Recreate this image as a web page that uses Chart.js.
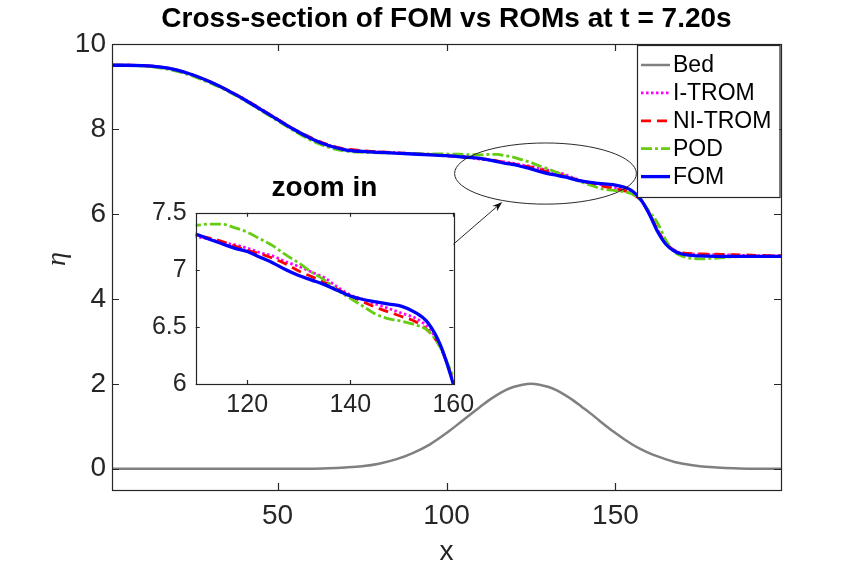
<!DOCTYPE html>
<html>
<head>
<meta charset="utf-8">
<title>Cross-section of FOM vs ROMs</title>
<script src="https://cdn.jsdelivr.net/npm/chart.js@4.4.0/dist/chart.umd.min.js"></script>
<style>
  body { margin: 0; background: #fff; }
  #wrap { position: relative; width: 864px; height: 576px; }
  #mainChart { position: absolute; left: 0; top: 0; }
  #zoomChart { position: absolute; left: 130px; top: 160px; }
</style>
</head>
<body>
<div id="wrap">
  <canvas id="mainChart" width="864" height="576"></canvas>
  <canvas id="zoomChart" width="389" height="270"></canvas>
</div>
<script>
// x positions of the cross-section samples
const xs = [1, 5, 10, 15, 20, 25, 30, 35, 40, 45, 50, 55, 60, 65, 70, 75, 80, 85, 90, 95, 100, 105,
  110, 112.5, 115, 117.5, 120, 122.5, 125, 127.5, 130, 132.5, 135, 137.5, 140, 142.5, 145, 147.5, 150, 152.5, 155, 157.5, 160,
  162.5, 165, 167.5, 170, 175, 180, 185, 190, 195, 199];

const bed = [0, 0, 0, 0, 0, 0, 0, 0, 0, 0, 0, 0, 0, 0.01, 0.03, 0.06, 0.12, 0.22, 0.37, 0.57, 0.84, 1.15,
  1.46, 1.61, 1.74, 1.85, 1.93, 1.98, 2.0, 1.98, 1.93, 1.85, 1.74, 1.61, 1.46, 1.31, 1.15, 0.99, 0.84, 0.70, 0.57, 0.46, 0.37,
  0.29, 0.22, 0.16, 0.12, 0.06, 0.03, 0.01, 0, 0, 0];

const iTrom = [9.50, 9.50, 9.49, 9.46, 9.39, 9.27, 9.11, 8.92, 8.71, 8.47, 8.23, 7.99, 7.78, 7.62, 7.52, 7.48, 7.46, 7.44, 7.42, 7.40, 7.37, 7.34,
  7.29, 7.27, 7.24, 7.22, 7.19, 7.15, 7.12, 7.07, 7.03, 6.98, 6.93, 6.85, 6.78, 6.74, 6.70, 6.66, 6.62, 6.58, 6.50, 6.33, 6.02,
  5.62, 5.30, 5.14, 5.07, 5.05, 5.04, 5.03, 5.02, 5.02, 5.01];

const niTrom = [9.50, 9.50, 9.49, 9.46, 9.39, 9.27, 9.11, 8.92, 8.71, 8.47, 8.23, 7.99, 7.79, 7.63, 7.53, 7.49, 7.46, 7.44, 7.42, 7.40, 7.37, 7.34,
  7.30, 7.28, 7.25, 7.21, 7.17, 7.14, 7.10, 7.05, 6.99, 6.94, 6.89, 6.83, 6.77, 6.72, 6.67, 6.63, 6.59, 6.55, 6.47, 6.32, 6.02,
  5.62, 5.30, 5.14, 5.08, 5.06, 5.05, 5.04, 5.03, 5.02, 5.02];

const pod = [9.50, 9.50, 9.48, 9.44, 9.36, 9.24, 9.08, 8.90, 8.68, 8.44, 8.19, 7.95, 7.73, 7.57, 7.48, 7.45, 7.44, 7.43, 7.42, 7.41, 7.41, 7.40,
  7.39, 7.40, 7.40, 7.37, 7.33, 7.27, 7.21, 7.13, 7.06, 6.98, 6.91, 6.82, 6.75, 6.68, 6.61, 6.57, 6.55, 6.52, 6.47, 6.32, 6.06,
  5.78, 5.37, 5.10, 5.00, 4.94, 4.96, 4.99, 5.00, 5.00, 5.00];

const fom = [9.50, 9.50, 9.49, 9.46, 9.39, 9.27, 9.11, 8.92, 8.70, 8.46, 8.22, 7.98, 7.77, 7.61, 7.51, 7.47, 7.45, 7.43, 7.41, 7.39, 7.37, 7.34,
  7.31, 7.27, 7.23, 7.19, 7.16, 7.11, 7.06, 7.00, 6.95, 6.91, 6.87, 6.82, 6.77, 6.74, 6.72, 6.70, 6.68, 6.63, 6.54, 6.34, 6.00,
  5.58, 5.28, 5.12, 5.05, 5.01, 5.00, 5.00, 5.00, 5.00, 5.00];

const xTicks = [50, 100, 150];
const yTicks = [0, 2, 4, 6, 8, 10];
const xTicksZoom = [120, 140, 160];
const yTicksZoom = [6, 6.5, 7, 7.5];

const AXIS = '#262626';
const SANS = '"Liberation Sans", Arial, Helvetica, sans-serif';

const series = [
  { label: 'Bed', values: bed, color: '#808080', dash: [], width: 2.5 },
  { label: 'I-TROM', values: iTrom, color: '#ff00ff', dash: [2.5, 2.5], width: 2.8 },
  { label: 'NI-TROM', values: niTrom, color: '#ff0000', dash: [10, 6], width: 2.8 },
  { label: 'POD', values: pod, color: '#66cc11', dash: [11, 3, 3, 3], width: 2.8 },
  { label: 'FOM', values: fom, color: '#0000ff', dash: [], width: 3.3 },
];

function buildDatasets() {
  return series.map((s, i) => ({
    label: s.label,
    data: xs.map((x, k) => ({ x: x, y: s.values[k] })),
    borderColor: s.color,
    borderWidth: s.width,
    borderDash: s.dash,
    pointRadius: 0,
    fill: false,
    cubicInterpolationMode: 'monotone',
    order: series.length - i // FOM drawn last, on top
  }));
}

// box round the axes with inward ticks, like matlab
function framePlugin(tickLen) {
  return {
    id: 'frame',
    beforeDatasetsDraw(chart) {
      const { ctx, chartArea: a } = chart;
      ctx.save();
      ctx.fillStyle = '#fff';
      ctx.fillRect(a.left, a.top, a.right - a.left, a.bottom - a.top);
      ctx.restore();
    },
    afterDatasetsDraw(chart) {
      const { ctx, chartArea: a, scales: { x, y } } = chart;
      ctx.save();
      ctx.strokeStyle = AXIS;
      ctx.lineWidth = 1.2;
      ctx.beginPath();
      x.ticks.forEach(t => {
        const px = Math.round(x.getPixelForValue(t.value)) + 0.5;
        ctx.moveTo(px, a.bottom); ctx.lineTo(px, a.bottom - tickLen);
        ctx.moveTo(px, a.top); ctx.lineTo(px, a.top + tickLen);
      });
      y.ticks.forEach(t => {
        const py = Math.round(y.getPixelForValue(t.value)) + 0.5;
        ctx.moveTo(a.left, py); ctx.lineTo(a.left + tickLen, py);
        ctx.moveTo(a.right, py); ctx.lineTo(a.right - tickLen, py);
      });
      ctx.stroke();
      ctx.strokeRect(Math.round(a.left) + 0.5, Math.round(a.top) + 0.5,
        Math.round(a.right - a.left), Math.round(a.bottom - a.top));
      ctx.restore();
    }
  };
}

// ellipse, arrow, legend and axis labels on the big axes
const mainExtras = {
  id: 'mainExtras',
  afterDatasetsDraw(chart) {
    const { ctx, chartArea: a, scales: { x, y } } = chart;
    ctx.save();

    // ellipse round the zoomed part
    const cx = x.getPixelForValue(129.3), cy = y.getPixelForValue(6.95);
    const rx = x.getPixelForValue(129.3 + 26.9) - cx;
    const ry = cy - y.getPixelForValue(6.95 + 0.72);
    ctx.strokeStyle = '#111';
    ctx.lineWidth = 0.9;
    ctx.beginPath();
    ctx.ellipse(cx, cy, rx, ry, 0, 0, Math.PI * 2);
    ctx.stroke();

    // arrow from the inset to the ellipse
    const x0 = x.getPixelForValue(101.8), y0 = y.getPixelForValue(5.27);
    const x1 = x.getPixelForValue(116.5), y1 = y.getPixelForValue(6.28);
    const ang = Math.atan2(y1 - y0, x1 - x0);
    ctx.beginPath();
    ctx.moveTo(x0, y0);
    ctx.lineTo(x1 - 6 * Math.cos(ang), y1 - 6 * Math.sin(ang));
    ctx.stroke();
    ctx.fillStyle = '#111';
    ctx.beginPath();
    ctx.moveTo(x1, y1);
    ctx.lineTo(x1 - 10 * Math.cos(ang) + 3.5 * Math.sin(ang), y1 - 10 * Math.sin(ang) - 3.5 * Math.cos(ang));
    ctx.lineTo(x1 - 7 * Math.cos(ang), y1 - 7 * Math.sin(ang));
    ctx.lineTo(x1 - 10 * Math.cos(ang) - 3.5 * Math.sin(ang), y1 - 10 * Math.sin(ang) + 3.5 * Math.cos(ang));
    ctx.closePath();
    ctx.fill();

    // legend, top right corner
    const lx = 637, ly = 45, lw = 142.5, lh = 152;
    ctx.fillStyle = '#fff';
    ctx.fillRect(lx, ly, lw, lh);
    ctx.strokeStyle = AXIS;
    ctx.lineWidth = 1.2;
    ctx.strokeRect(lx + 0.5, ly + 0.5, lw, lh);
    ctx.font = '23px ' + SANS;
    ctx.textBaseline = 'middle';
    ctx.textAlign = 'left';
    chart.data.datasets.forEach((ds, i) => {
      const ey = ly + 20 + i * 27.9;
      ctx.strokeStyle = ds.borderColor;
      ctx.lineWidth = ds.borderWidth;
      ctx.setLineDash(ds.borderDash);
      ctx.beginPath();
      ctx.moveTo(lx + 4, ey);
      ctx.lineTo(lx + 33, ey);
      ctx.stroke();
      ctx.setLineDash([]);
      ctx.fillStyle = '#000';
      ctx.fillText(ds.label, lx + 36, ey + 1);
    });

    // axis titles
    ctx.fillStyle = AXIS;
    ctx.textAlign = 'center';
    ctx.font = '28px ' + SANS;
    ctx.fillText('x', (a.left + a.right) / 2, 552);
    ctx.translate(58, (a.top + a.bottom) / 2 - 8);
    ctx.rotate(-Math.PI / 2);
    ctx.font = 'italic 28px "Liberation Serif", "DejaVu Serif", serif';
    ctx.fillText('η', 0, 0);
    ctx.restore();
  }
};

new Chart(document.getElementById('mainChart'), {
  type: 'line',
  data: { datasets: buildDatasets() },
  options: {
    responsive: false,
    animation: false,
    devicePixelRatio: 1,
    events: [],
    layout: { padding: { left: 0, right: 83, top: 0, bottom: 0 } },
    plugins: {
      legend: { display: false },
      tooltip: { enabled: false },
      title: {
        display: true,
        fullSize: false,
        text: 'Cross-section of FOM vs ROMs at t = 7.20s',
        color: '#000',
        font: { family: SANS, size: 28, weight: 'bold', lineHeight: 1.2 },
        padding: { top: 2, bottom: 8.4 }
      }
    },
    scales: {
      x: {
        type: 'linear', min: 1, max: 199,
        grid: { display: false, drawTicks: false },
        border: { display: false },
        ticks: { color: AXIS, font: { family: SANS, size: 28 }, padding: 9, maxRotation: 0, callback: v => String(v) },
        afterBuildTicks: s => { s.ticks = xTicks.map(v => ({ value: v })); },
        afterFit: s => { s.height = 86; }
      },
      y: {
        type: 'linear', min: -0.5, max: 10,
        grid: { display: false, drawTicks: false },
        border: { display: false },
        ticks: { color: AXIS, font: { family: SANS, size: 28 }, padding: 6, callback: v => String(v) },
        afterBuildTicks: s => { s.ticks = yTicks.map(v => ({ value: v })); },
        afterFit: s => { s.width = 112; }
      }
    }
  },
  plugins: [framePlugin(7), mainExtras]
});

new Chart(document.getElementById('zoomChart'), {
  type: 'line',
  data: { datasets: buildDatasets() },
  options: {
    responsive: false,
    animation: false,
    devicePixelRatio: 1,
    events: [],
    layout: { padding: { left: 0, right: 65.7, top: 0, bottom: 0 } },
    plugins: {
      legend: { display: false },
      tooltip: { enabled: false },
      title: {
        display: true,
        fullSize: false,
        text: 'zoom in',
        color: '#000',
        font: { family: SANS, size: 28, weight: 'bold', lineHeight: 1.2 },
        padding: { top: 11.2, bottom: 7.9 }
      }
    },
    scales: {
      x: {
        type: 'linear', min: 110, max: 160,
        grid: { display: false, drawTicks: false },
        border: { display: false },
        ticks: { color: AXIS, font: { family: SANS, size: 25 }, padding: 6, maxRotation: 0, callback: v => String(v) },
        afterBuildTicks: s => { s.ticks = xTicksZoom.map(v => ({ value: v })); },
        afterFit: s => { s.height = 46; }
      },
      y: {
        type: 'linear', min: 6, max: 7.5,
        grid: { display: false, drawTicks: false },
        border: { display: false },
        ticks: { color: AXIS, font: { family: SANS, size: 25 }, padding: 9, callback: v => String(v) },
        afterBuildTicks: s => { s.ticks = yTicksZoom.map(v => ({ value: v })); },
        afterFit: s => { s.width = 65.7; }
      }
    }
  },
  plugins: [framePlugin(4)]
});
</script>
</body>
</html>
